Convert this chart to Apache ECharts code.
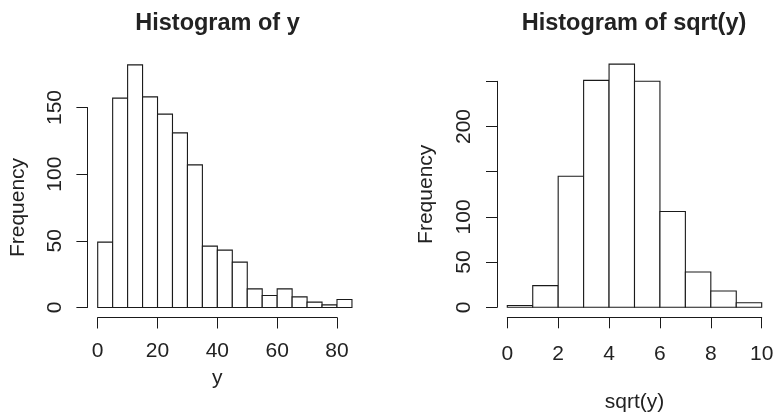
<!DOCTYPE html>
<html>
<head>
<meta charset="utf-8">
<script src="https://cdn.jsdelivr.net/npm/echarts@6/dist/echarts.min.js"></script>
<style>
html, body { margin: 0; padding: 0; background: #fff; }
#chart { width: 775px; height: 415px; }
</style>
</head>
<body>
<div id="chart"></div>
<script>
// ---- Data ----
const titleLeft = 'Histogram of y';
const titleRight = 'Histogram of sqrt(y)';
const xNameLeft = 'y';
const xNameRight = 'sqrt(y)';
const yName = 'Frequency';

const breaksY = [0, 5, 10, 15, 20, 25, 30, 35, 40, 45, 50, 55, 60, 65, 70, 75, 80, 85];
const countsY = [49, 157, 182, 158, 145, 131, 107, 46, 43, 34, 14, 9, 14, 8, 4, 2, 6];

const breaksSqrt = [0, 1, 2, 3, 4, 5, 6, 7, 8, 9, 10];
const countsSqrt = [2, 24, 145, 251, 269, 250, 106, 39, 18, 5];

// axis tick ranges (R draws axes only between first and last tick)
const xTicksLeft = [0, 20, 40, 60, 80];
const yTicksLeft = [0, 50, 100, 150];
const xTicksRight = [0, 2, 4, 6, 8, 10];
const yTicksRight = [0, 50, 100, 150, 200, 250];
const yLabelsRight = ['0', '50', '100', '', '200', ''];

// ---- Helpers ----
function binData(breaks, counts) {
  return counts.map((c, i) => [breaks[i], breaks[i + 1], c]);
}
const FONT = "'Liberation Sans', Arial, Helvetica, sans-serif";
const INK = '#1a1a1a';
const TXT = '#222';

function renderBar(params, api) {
  const x0 = api.value(0), x1 = api.value(1), c = api.value(2);
  const p0 = api.coord([x0, c]);
  const p1 = api.coord([x1, 0]);
  return {
    type: 'rect',
    shape: { x: p0[0], y: p0[1], width: p1[0] - p0[0], height: p1[1] - p0[1] },
    style: { fill: '#fff', stroke: INK, lineWidth: 1.1 }
  };
}

function xAxisCfg(idx, ticks, name, labelMargin, nameGap) {
  return {
    type: 'value', gridIndex: idx,
    min: ticks[0], max: ticks[ticks.length - 1], interval: ticks[1] - ticks[0],
    position: 'bottom', offset: 10,
    name: name, nameLocation: 'middle', nameGap: nameGap,
    nameTextStyle: { fontFamily: FONT, fontSize: 21, color: TXT },
    axisLine: { show: true, onZero: false, lineStyle: { color: INK, width: 1 } },
    axisTick: { show: true, length: 11, lineStyle: { color: INK, width: 1 } },
    axisLabel: { show: true, margin: labelMargin, fontFamily: FONT, fontSize: 21, color: TXT,
                 showMinLabel: true, showMaxLabel: true, hideOverlap: false },
    splitLine: { show: false }
  };
}
function yAxisCfg(idx, ticks, labels, labelMargin, nameGap) {
  return {
    type: 'value', gridIndex: idx,
    min: ticks[0], max: ticks[ticks.length - 1], interval: ticks[1] - ticks[0],
    position: 'left', offset: 10.3,
    name: yName, nameLocation: 'middle', nameGap: nameGap,
    nameTextStyle: { fontFamily: FONT, fontSize: 21, color: TXT },
    axisLine: { show: true, onZero: false, lineStyle: { color: INK, width: 1 } },
    axisTick: { show: true, length: 11, lineStyle: { color: INK, width: 1 } },
    axisLabel: { show: true, rotate: 90, margin: labelMargin, fontFamily: FONT, fontSize: 21, color: TXT,
                 showMinLabel: true, showMaxLabel: true, hideOverlap: false,
                 formatter: function (v) {
                   const i = ticks.indexOf(v);
                   return labels ? (i >= 0 ? labels[i] : '') : String(v);
                 } },
    splitLine: { show: false }
  };
}

const chart = echarts.init(document.getElementById('chart'), null, { renderer: 'canvas' });
chart.setOption({
  animation: false,
  backgroundColor: '#fff',
  title: [
    { text: titleLeft, left: 217.5, top: 11.5, textAlign: 'center', padding: 0,
      textStyle: { fontFamily: FONT, fontSize: 23.5, fontWeight: 'bold', color: TXT } },
    { text: titleRight, left: 634, top: 11.5, textAlign: 'center', padding: 0,
      textStyle: { fontFamily: FONT, fontSize: 23.5, fontWeight: 'bold', color: TXT } }
  ],
  grid: [
    { left: 97.7, top: 107.5, width: 239.3, height: 200, containLabel: false, outerBoundsMode: 'none' },
    { left: 507.3, top: 81.3, width: 254.4, height: 226, containLabel: false, outerBoundsMode: 'none' }
  ],
  xAxis: [
    xAxisCfg(0, xTicksLeft, xNameLeft, 23.5, 50),
    xAxisCfg(1, xTicksRight, xNameRight, 26.5, 74)
  ],
  yAxis: [
    yAxisCfg(0, yTicksLeft, null, 21.3, 58.3),
    yAxisCfg(1, yTicksRight, yLabelsRight, 22.2, 60.6)
  ],
  series: [
    { type: 'custom', xAxisIndex: 0, yAxisIndex: 0, clip: false,
      renderItem: renderBar, data: binData(breaksY, countsY), encode: { x: [0, 1], y: 2 } },
    { type: 'custom', xAxisIndex: 1, yAxisIndex: 1, clip: false,
      renderItem: renderBar, data: binData(breaksSqrt, countsSqrt), encode: { x: [0, 1], y: 2 } }
  ]
});
</script>
</body>
</html>
